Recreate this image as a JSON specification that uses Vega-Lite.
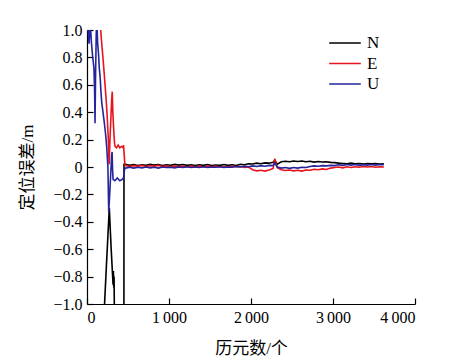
{
  "$schema": "https://vega.github.io/schema/vega-lite/v6.json",
  "width": 328,
  "height": 274,
  "autosize": "none",
  "padding": {"left": 87, "top": 30, "right": 37, "bottom": 58},
  "background": "white",
  "config": {
    "view": {"stroke": null},
    "font": "Liberation Serif, Noto Sans CJK SC",
    "axis": {
      "grid": false,
      "domainColor": "#000000",
      "domainWidth": 1.2,
      "tickColor": "#000000",
      "tickWidth": 1.2,
      "tickSize": -6,
      "labelColor": "#000000",
      "labelFont": "Liberation Serif",
      "labelFontSize": 16,
      "titleColor": "#000000",
      "titleFont": "Liberation Serif, Noto Sans CJK SC",
      "titleFontSize": 17,
      "titleFontWeight": "normal"
    }
  },
  "data": {"values": [
    {"s":"N","x":0,"y":-2.5},{"s":"N","x":150,"y":-2.2},{"s":"N","x":210,"y":-1.05},{"s":"N","x":240,"y":-0.68},{"s":"N","x":272,"y":-0.3},{"s":"N","x":295,"y":-0.6},{"s":"N","x":318,"y":-0.86},{"s":"N","x":322,"y":-0.76},{"s":"N","x":326,"y":-0.88},{"s":"N","x":330,"y":-0.8},{"s":"N","x":334,"y":-1.05},{"s":"N","x":400,"y":-1.8},{"s":"N","x":449,"y":-3.0},{"s":"N","x":451,"y":0.02},
    {"s":"N","x":470,"y":0.02},{"s":"N","x":520,"y":0.012},{"s":"N","x":570,"y":0.018},{"s":"N","x":620,"y":0.01},{"s":"N","x":670,"y":0.016},{"s":"N","x":720,"y":0.012},{"s":"N","x":770,"y":0.02},{"s":"N","x":820,"y":0.014},{"s":"N","x":870,"y":0.018},{"s":"N","x":920,"y":0.01},{"s":"N","x":970,"y":0.016},{"s":"N","x":1020,"y":0.012},{"s":"N","x":1070,"y":0.02},{"s":"N","x":1120,"y":0.014},{"s":"N","x":1170,"y":0.018},{"s":"N","x":1220,"y":0.012},{"s":"N","x":1270,"y":0.016},{"s":"N","x":1320,"y":0.01},{"s":"N","x":1370,"y":0.016},{"s":"N","x":1420,"y":0.012},{"s":"N","x":1470,"y":0.018},{"s":"N","x":1520,"y":0.01},{"s":"N","x":1570,"y":0.014},{"s":"N","x":1620,"y":0.012},{"s":"N","x":1670,"y":0.018},{"s":"N","x":1720,"y":0.012},{"s":"N","x":1770,"y":0.016},{"s":"N","x":1820,"y":0.01},{"s":"N","x":1870,"y":0.02},{"s":"N","x":1920,"y":0.016},{"s":"N","x":1970,"y":0.024},{"s":"N","x":2020,"y":0.022},{"s":"N","x":2070,"y":0.028},{"s":"N","x":2120,"y":0.024},{"s":"N","x":2170,"y":0.03},{"s":"N","x":2220,"y":0.028},{"s":"N","x":2270,"y":0.035},{"s":"N","x":2290,"y":0.05},{"s":"N","x":2320,"y":0.02},{"s":"N","x":2370,"y":0.038},{"s":"N","x":2420,"y":0.042},{"s":"N","x":2470,"y":0.038},{"s":"N","x":2520,"y":0.044},{"s":"N","x":2570,"y":0.04},{"s":"N","x":2620,"y":0.044},{"s":"N","x":2670,"y":0.038},{"s":"N","x":2720,"y":0.042},{"s":"N","x":2770,"y":0.036},{"s":"N","x":2820,"y":0.04},{"s":"N","x":2870,"y":0.036},{"s":"N","x":2920,"y":0.038},{"s":"N","x":2970,"y":0.034},{"s":"N","x":3020,"y":0.032},{"s":"N","x":3070,"y":0.028},{"s":"N","x":3120,"y":0.026},{"s":"N","x":3170,"y":0.024},{"s":"N","x":3220,"y":0.028},{"s":"N","x":3270,"y":0.024},{"s":"N","x":3320,"y":0.026},{"s":"N","x":3370,"y":0.022},{"s":"N","x":3420,"y":0.026},{"s":"N","x":3470,"y":0.024},{"s":"N","x":3520,"y":0.026},{"s":"N","x":3570,"y":0.022},{"s":"N","x":3620,"y":0.024},
    {"s":"E","x":0,"y":1.5},{"s":"E","x":150,"y":1.2},{"s":"E","x":167,"y":1.0},{"s":"E","x":180,"y":0.9},{"s":"E","x":190,"y":0.83},{"s":"E","x":205,"y":0.72},{"s":"E","x":220,"y":0.6},{"s":"E","x":235,"y":0.48},{"s":"E","x":248,"y":0.35},{"s":"E","x":260,"y":0.2},{"s":"E","x":270,"y":0.02},{"s":"E","x":280,"y":0.2},{"s":"E","x":300,"y":0.48},{"s":"E","x":308,"y":0.55},{"s":"E","x":315,"y":0.4},{"s":"E","x":325,"y":0.28},{"s":"E","x":335,"y":0.18},{"s":"E","x":342,"y":0.15},{"s":"E","x":360,"y":0.14},{"s":"E","x":380,"y":0.16},{"s":"E","x":400,"y":0.14},{"s":"E","x":420,"y":0.15},{"s":"E","x":440,"y":0.14},{"s":"E","x":445,"y":0.16},{"s":"E","x":462,"y":0.02},
    {"s":"E","x":470,"y":0.01},{"s":"E","x":520,"y":0.004},{"s":"E","x":570,"y":0.01},{"s":"E","x":620,"y":0.006},{"s":"E","x":670,"y":0.012},{"s":"E","x":720,"y":0.004},{"s":"E","x":770,"y":0.01},{"s":"E","x":820,"y":0.006},{"s":"E","x":870,"y":0.012},{"s":"E","x":920,"y":0.004},{"s":"E","x":970,"y":0.008},{"s":"E","x":1020,"y":0.002},{"s":"E","x":1070,"y":0.008},{"s":"E","x":1120,"y":0.002},{"s":"E","x":1170,"y":0.006},{"s":"E","x":1220,"y":0.0},{"s":"E","x":1270,"y":0.006},{"s":"E","x":1320,"y":0.002},{"s":"E","x":1370,"y":0.006},{"s":"E","x":1420,"y":0.0},{"s":"E","x":1470,"y":0.006},{"s":"E","x":1520,"y":0.002},{"s":"E","x":1570,"y":0.006},{"s":"E","x":1620,"y":0.0},{"s":"E","x":1670,"y":0.004},{"s":"E","x":1720,"y":0.0},{"s":"E","x":1770,"y":0.006},{"s":"E","x":1820,"y":0.002},{"s":"E","x":1870,"y":0.004},{"s":"E","x":1920,"y":-0.004},{"s":"E","x":1970,"y":0.0},{"s":"E","x":2020,"y":-0.02},{"s":"E","x":2070,"y":-0.028},{"s":"E","x":2120,"y":-0.024},{"s":"E","x":2170,"y":-0.03},{"s":"E","x":2220,"y":-0.022},{"s":"E","x":2270,"y":-0.01},{"s":"E","x":2290,"y":0.06},{"s":"E","x":2320,"y":-0.005},{"s":"E","x":2370,"y":-0.02},{"s":"E","x":2420,"y":-0.026},{"s":"E","x":2470,"y":-0.022},{"s":"E","x":2520,"y":-0.028},{"s":"E","x":2570,"y":-0.024},{"s":"E","x":2620,"y":-0.03},{"s":"E","x":2670,"y":-0.022},{"s":"E","x":2720,"y":-0.024},{"s":"E","x":2770,"y":-0.016},{"s":"E","x":2820,"y":-0.02},{"s":"E","x":2870,"y":-0.014},{"s":"E","x":2920,"y":-0.018},{"s":"E","x":2970,"y":-0.008},{"s":"E","x":3020,"y":-0.004},{"s":"E","x":3070,"y":0.0},{"s":"E","x":3120,"y":-0.006},{"s":"E","x":3170,"y":0.002},{"s":"E","x":3220,"y":-0.004},{"s":"E","x":3270,"y":0.002},{"s":"E","x":3320,"y":-0.002},{"s":"E","x":3370,"y":0.004},{"s":"E","x":3420,"y":0.0},{"s":"E","x":3470,"y":0.004},{"s":"E","x":3520,"y":-0.002},{"s":"E","x":3570,"y":0.002},{"s":"E","x":3620,"y":0.0},
    {"s":"U","x":0,"y":1.3},{"s":"U","x":15,"y":1.0},{"s":"U","x":25,"y":0.9},{"s":"U","x":40,"y":1.05},{"s":"U","x":55,"y":0.9},{"s":"U","x":70,"y":0.8},{"s":"U","x":85,"y":0.72},{"s":"U","x":93,"y":0.55},{"s":"U","x":98,"y":0.32},{"s":"U","x":104,"y":0.65},{"s":"U","x":112,"y":0.95},{"s":"U","x":118,"y":1.1},{"s":"U","x":130,"y":0.9},{"s":"U","x":140,"y":0.83},{"s":"U","x":150,"y":0.72},{"s":"U","x":160,"y":0.66},{"s":"U","x":170,"y":0.55},{"s":"U","x":180,"y":0.47},{"s":"U","x":195,"y":0.4},{"s":"U","x":210,"y":0.33},{"s":"U","x":225,"y":0.25},{"s":"U","x":240,"y":0.15},{"s":"U","x":255,"y":0.0},{"s":"U","x":265,"y":-0.33},{"s":"U","x":285,"y":-0.1},{"s":"U","x":300,"y":0.08},{"s":"U","x":306,"y":0.11},{"s":"U","x":312,"y":-0.02},{"s":"U","x":318,"y":-0.09},{"s":"U","x":340,"y":-0.1},{"s":"U","x":370,"y":-0.08},{"s":"U","x":400,"y":-0.1},{"s":"U","x":430,"y":-0.09},{"s":"U","x":445,"y":-0.08},{"s":"U","x":460,"y":-0.01},
    {"s":"U","x":470,"y":-0.008},{"s":"U","x":520,"y":-0.002},{"s":"U","x":570,"y":-0.008},{"s":"U","x":620,"y":-0.002},{"s":"U","x":670,"y":-0.006},{"s":"U","x":720,"y":0.0},{"s":"U","x":770,"y":-0.006},{"s":"U","x":820,"y":-0.002},{"s":"U","x":870,"y":-0.008},{"s":"U","x":920,"y":0.0},{"s":"U","x":970,"y":-0.004},{"s":"U","x":1020,"y":-0.002},{"s":"U","x":1070,"y":-0.006},{"s":"U","x":1120,"y":0.0},{"s":"U","x":1170,"y":-0.004},{"s":"U","x":1220,"y":0.002},{"s":"U","x":1270,"y":-0.004},{"s":"U","x":1320,"y":0.0},{"s":"U","x":1370,"y":-0.004},{"s":"U","x":1420,"y":0.002},{"s":"U","x":1470,"y":-0.004},{"s":"U","x":1520,"y":0.0},{"s":"U","x":1570,"y":-0.002},{"s":"U","x":1620,"y":0.002},{"s":"U","x":1670,"y":-0.004},{"s":"U","x":1720,"y":0.0},{"s":"U","x":1770,"y":-0.002},{"s":"U","x":1820,"y":0.004},{"s":"U","x":1870,"y":0.0},{"s":"U","x":1920,"y":0.006},{"s":"U","x":1970,"y":0.002},{"s":"U","x":2020,"y":0.008},{"s":"U","x":2070,"y":0.004},{"s":"U","x":2120,"y":0.01},{"s":"U","x":2170,"y":0.006},{"s":"U","x":2220,"y":0.012},{"s":"U","x":2270,"y":0.01},{"s":"U","x":2290,"y":0.03},{"s":"U","x":2320,"y":0.0},{"s":"U","x":2370,"y":-0.008},{"s":"U","x":2420,"y":-0.004},{"s":"U","x":2470,"y":-0.01},{"s":"U","x":2520,"y":-0.004},{"s":"U","x":2570,"y":-0.008},{"s":"U","x":2620,"y":-0.002},{"s":"U","x":2670,"y":-0.004},{"s":"U","x":2720,"y":0.004},{"s":"U","x":2770,"y":0.008},{"s":"U","x":2820,"y":0.006},{"s":"U","x":2870,"y":0.01},{"s":"U","x":2920,"y":0.008},{"s":"U","x":2970,"y":0.012},{"s":"U","x":3020,"y":0.01},{"s":"U","x":3070,"y":0.016},{"s":"U","x":3120,"y":0.012},{"s":"U","x":3170,"y":0.018},{"s":"U","x":3220,"y":0.014},{"s":"U","x":3270,"y":0.018},{"s":"U","x":3320,"y":0.012},{"s":"U","x":3370,"y":0.016},{"s":"U","x":3420,"y":0.014},{"s":"U","x":3470,"y":0.018},{"s":"U","x":3520,"y":0.014},{"s":"U","x":3570,"y":0.018},{"s":"U","x":3620,"y":0.016}
  ]},
  "mark": {"type": "line", "clip": true, "strokeWidth": 1.6},
  "encoding": {
    "x": {
      "field": "x", "type": "quantitative",
      "scale": {"domain": [0, 4000], "nice": false, "zero": false},
      "axis": {
        "values": [0, 1000, 2000, 3000, 4000],
        "labelExpr": "datum.value == 0 ? '0' : format(datum.value / 1000, 'd') + '\u2009000'",
        "labelPadding": 11,
        "title": "历元数/个",
        "titlePadding": 15
      }
    },
    "y": {
      "field": "y", "type": "quantitative",
      "scale": {"domain": [-1, 1], "nice": false, "zero": false},
      "axis": {
        "values": [-1, -0.8, -0.6, -0.4, -0.2, 0, 0.2, 0.4, 0.6, 0.8, 1],
        "labelExpr": "datum.value == 0 ? '0' : format(datum.value, '.1f')",
        "labelPadding": 11,
        "title": "定位误差/m",
        "titlePadding": 16
      }
    },
    "color": {
      "field": "s", "type": "nominal",
      "sort": ["N", "E", "U"],
      "scale": {"domain": ["N", "E", "U"], "range": ["#000000", "#e8141c", "#24249c"]},
      "legend": {
        "title": null,
        "orient": "none",
        "legendX": 241,
        "legendY": 3,
        "symbolType": "stroke",
        "symbolSize": 1000,
        "symbolStrokeWidth": 1.5,
        "clipHeight": 20,
        "rowPadding": 0.5,
        "labelFont": "Liberation Serif",
        "labelFontSize": 17,
        "labelColor": "#000000",
        "labelOffset": 5
      }
    }
  }
}
